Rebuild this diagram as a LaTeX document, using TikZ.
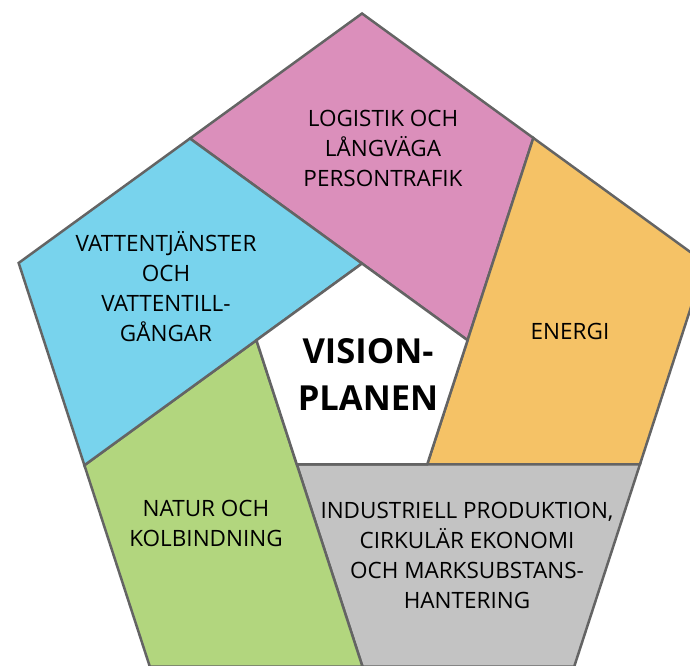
\documentclass[tikz,border=0pt]{standalone}
\usepackage{fontspec}
\setmainfont{Open Sans}
\definecolor{rosa}{RGB}{219,143,187}
\definecolor{bla}{RGB}{120,211,237}
\definecolor{orange}{RGB}{245,194,102}
\definecolor{gron}{RGB}{178,214,126}
\definecolor{gra}{RGB}{195,195,195}
\definecolor{kant}{RGB}{100,100,100}
\tikzset{
	falt/.style={draw=kant,line width=2.5pt},
	etikett/.style={align=center,font=\fontsize{22.5}{30}\selectfont},
	mitt/.style={align=center,font=\fontsize{34.5}{47}\selectfont\bfseries}
}
\begin{document}
\begin{tikzpicture}[x=1pt,y=-1pt]
		\useasboundingbox (0,0) rectangle (690,665);
		\clip (0,0) rectangle (690,665);
		%Hornen
		\coordinate (c) at (362,374.5);
		\foreach \i/\a in {1/-90,2/-18,3/54,4/126,5/198}{
			\coordinate (o\i) at ([shift={(\a:361)}]c);
			\coordinate (n\i) at ([shift={(\a:111)}]c);
		}
		%Delningspunkter
		\coordinate (p1) at (intersection of n2--n1 and o5--o1);
		\coordinate (p2) at (intersection of n3--n2 and o1--o2);
		\coordinate (p3) at (intersection of n4--n3 and o2--o3);
		\coordinate (p4) at (intersection of n5--n4 and o3--o4);
		\coordinate (p5) at (intersection of n1--n5 and o4--o5);
		%Falten
		\filldraw[falt,fill=rosa] (o1) -- (p2) -- (n2) -- (n1) -- (p1) -- cycle;
		\filldraw[falt,fill=orange] (o2) -- (p3) -- (n3) -- (n2) -- (p2) -- cycle;
		\filldraw[falt,fill=gra] (o3) -- (p4) -- (n4) -- (n3) -- (p3) -- cycle;
		\filldraw[falt,fill=gron] (o4) -- (p5) -- (n5) -- (n4) -- (p4) -- cycle;
		\filldraw[falt,fill=bla] (o5) -- (p1) -- (n1) -- (n5) -- (p5) -- cycle;
		\filldraw[falt,fill=white] (n1) -- (n2) -- (n3) -- (n4) -- (n5) -- cycle;
		%Texter
		\node[etikett] (logistik) at (383,148) {LOGISTIK OCH\\LÅNGVÄGA\\PERSONTRAFIK};
		\node[etikett] (vatten) at (166,287) {VATTENTJÄNSTER\\OCH\\VATTENTILL-\\GÅNGAR};
		\node[etikett] (energi) at (570,331) {ENERGI};
		\node[etikett] (natur) at (206,523) {NATUR OCH\\KOLBINDNING};
		\node[etikett] (industri) at (467,555) {INDUSTRIELL PRODUKTION,\\CIRKULÄR EKONOMI\\OCH MARKSUBSTANS-\\HANTERING};
		\node[mitt] (vision) at (368,374) {VISION-\\PLANEN};
	\end{tikzpicture}
\end{document}
